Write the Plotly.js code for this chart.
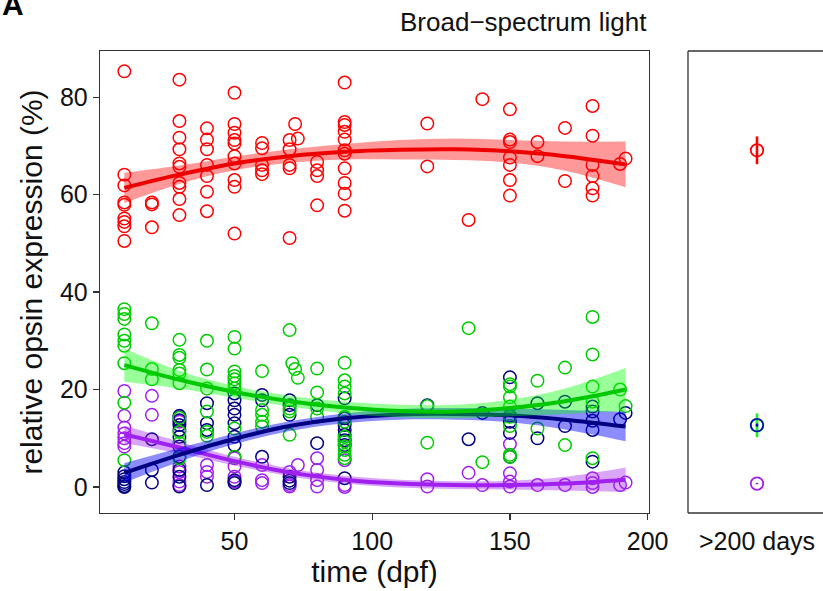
<!DOCTYPE html>
<html><head><meta charset="utf-8">
<script src="https://cdn.plot.ly/plotly-3.0.1.min.js"></script>
<style>html,body{margin:0;padding:0;background:#fff;overflow:hidden}#chart{width:830px;height:591px}</style>
</head><body><div id="chart"></div>
<script>
// ---- raw observations (days post fertilisation, % expression) ----
const redDay = [10,10,10,10,10,10,10,10,10, 20,20,20, 30,30,30,30,30,30,30,30,30,30, 40,40,40,40,40,40,40,
  50,50,50,50,50,50,50,50,50,50, 60,60,60,60,60, 70,70,70,70,70, 72,73, 80,80,80,80,
  90,90,90,90,90,90,90,90,90,90,90, 120,120, 135, 140, 150,150,150,150,150,150,150, 160,160, 170,170,
  180,180,180,180,180,180, 190, 192];
const redPct = [85.3,64.1,61.9,58.4,57.9,55.1,54.4,53.5,50.5, 58.4,58.0,53.3, 83.6,75.1,71.7,69.3,66.4,65.7,62.4,61.6,59.1,55.8,
  73.6,71.3,69.3,66.1,63.8,60.6,56.6, 80.9,74.5,72.7,71.2,70.5,67.9,66.4,63.0,61.6,52.0, 70.6,69.5,66.1,65.0,64.2,
  71.2,69.3,66.1,65.4,51.1, 74.5,71.5, 66.7,65.0,63.8,57.8, 83.0,74.9,74.3,72.9,71.3,69.1,68.4,65.4,62.4,60.2,56.7,
  74.6,65.8, 54.8, 79.6, 77.5,71.3,70.8,67.6,66.1,63.0,59.8, 70.8,67.9, 73.7,62.8, 78.2,72.1,66.1,63.8,61.3,59.8, 66.3, 67.4];

const greenDay = [10,10,10,10,10,10,10,10,10, 20,20,20, 30,30,30,30,30,30,30,30,30,30, 40,40,40,40,40,40,
  50,50,50,50,50,50,50,50,50, 60,60,60,60,60, 70,70,70,70, 71,72,73, 80,80,80,80,
  90,90,90,90,90,90,90,90,90,90,90,90, 120,120, 135, 140, 150,150,150,150,150,150,150,150, 160,160, 170,170,
  180,180,180,180,180, 190, 192];
const greenPct = [36.5,35.5,34.5,31.3,30.0,29.0,25.4,17.3,5.5, 33.6,24.2,22.1, 30.2,27.1,26.5,24.0,23.3,21.3,14.2,11.3,9.0,5.9,
  30.0,24.1,20.2,15.5,11.3,10.5, 30.8,28.4,23.7,22.8,22.1,21.3,20.2,12.0,6.2, 23.8,15.8,14.8,13.4,12.4,
  32.2,16.1,15.5,10.7, 25.4,24.2,22.4, 24.3,19.4,16.1,14.4, 25.5,21.9,20.6,19.2,14.4,13.4,10.3,9.3,8.3,7.6,6.6,5.9,
  16.6,9.1, 32.6, 5.1, 21.1,20.6,18.4,16.5,14.4,12.5,6.6,6.2, 21.8,12.0, 24.5,8.6, 34.9,27.2,20.6,17.5,5.9, 20.0, 16.6];

const navyDay = [10,10,10,10,10,10,10, 20,20,20, 30,30,30,30,30,30,30,30,30,30, 40,40,40,40,
  50,50,50,50,50,50,50,50,50, 60,60,60, 70,70,70,70,70,70, 80,80, 90,90,90,90,90,90,90,90,
  120, 135, 140, 150,150,150,150,150, 160,160, 170,170, 180,180,180,180,180, 190, 192];
const navyPct = [3.0,2.2,1.6,1.0,0.6,0.2,0.0, 9.8,3.5,0.9, 14.6,13.7,12.7,11.7,10.3,8.3,6.2,3.5,2.1,0.1, 17.2,13.1,11.7,0.4,
  19.2,17.8,16.1,14.8,13.1,10.3,8.6,1.4,0.8, 18.9,17.8,6.2, 17.8,16.8,14.8,2.1,1.3,0.8, 16.8,9.0,
  18.2,14.1,12.7,11.7,10.7,9.6,8.6,1.8, 16.8, 9.8, 15.2, 22.5,14.6,13.4,11.1,6.2, 17.2,10.0, 17.5,12.5,
  16.5,15.5,13.6,11.7,5.2, 13.9, 15.2];

const purpleDay = [10,10,10,10,10,10,10, 20,20, 30,30,30,30,30,30, 40,40,40, 50,50,50,50, 60,60,60,
  70,70,70, 73, 80,80,80,80, 90,90,90, 120,120, 135, 140, 150,150,150,150, 160, 170, 180,180,180, 190, 192];
const purplePct = [19.7,14.6,12.2,11.0,10.0,9.0,8.3, 18.7,14.8, 14.4,13.4,4.2,3.1,1.1,0.4, 4.5,3.1,2.1, 5.9,4.2,2.1,1.1,
  4.5,1.4,0.8, 3.1,0.4,0.1, 4.5, 5.9,3.5,1.4,0.1, 5.5,0.4,0.0, 1.6,0.1, 2.9, 0.4, 8.8,2.8,1.1,0.1, 0.4, 0.4,
  1.8,0.8,0.0, 0.4, 0.9];

// ---- smoothed fits with confidence band ----
const fitDay = [10, 30, 50, 70, 90, 110, 130, 150, 170, 192];
const redFit = [61.4, 64.1, 66.4, 67.9, 68.8, 69.2, 69.3, 68.9, 67.9, 66.2];
const redLo  = [58.3, 62.2, 65.0, 66.5, 67.2, 67.2, 67.1, 66.6, 64.9, 61.5];
const redHi  = [64.5, 66.0, 67.8, 69.3, 70.4, 71.2, 71.5, 71.2, 70.9, 70.9];
const greenFit = [25.0, 22.0, 19.5, 17.6, 16.3, 15.6, 15.5, 16.2, 17.6, 20.0];
const greenLo  = [21.6, 20.2, 18.3, 16.5, 15.1, 14.3, 14.1, 14.5, 15.0, 15.6];
const greenHi  = [28.4, 23.8, 20.7, 18.7, 17.5, 16.9, 16.9, 17.9, 20.2, 24.4];
const navyFit = [2.9, 6.6, 9.9, 12.5, 14.1, 14.9, 15.0, 14.7, 13.8, 12.4];
const navyLo  = [0.9, 5.2, 8.8, 11.5, 13.1, 13.8, 13.8, 13.3, 11.8, 9.4];
const navyHi  = [4.9, 8.0, 11.0, 13.5, 15.1, 16.0, 16.2, 16.1, 15.8, 15.4];
const purpleFit = [10.8, 8.1, 5.3, 3.0, 1.5, 0.7, 0.4, 0.4, 0.7, 1.5];
const purpleLo  = [9.0, 6.9, 4.4, 2.2, 0.7, -0.1, -0.4, -0.5, -0.7, -1.0];
const purpleHi  = [12.6, 9.3, 6.2, 3.8, 2.3, 1.5, 1.2, 1.3, 2.1, 4.0];

// ---- adult (>200 days) means and error ----
const adultLabel = ['>200 days'];
const adultMean = [69.1, 12.65, 12.7, 0.7];   // red, green, blue, purple
const adultErr  = [2.85, 2.45, 0.3, 0.15];

const xTicks = [50, 100, 150, 200];
const yTicks = [0, 20, 40, 60, 80];

const FONT = 'Liberation Sans, Arial, Helvetica, sans-serif';
const C = {
  red:   {pt:'#FF0000', line:'#EE0000', band:'rgba(255,0,0,0.4)'},
  green: {pt:'#00CD00', line:'#00C800', band:'rgba(0,255,0,0.4)'},
  navy:  {pt:'#000080', line:'#000080', band:'rgba(0,0,255,0.45)'},
  purple:{pt:'#A020F0', line:'#A020F0', band:'rgba(160,32,240,0.4)'}
};

function pts(x, y, col) {
  return {x, y, type:'scatter', mode:'markers', xaxis:'x', yaxis:'y', hoverinfo:'skip',
    marker:{symbol:'circle-open', size:12.5, color:col, line:{width:1.5, color:col}}};
}
function band(lo, hi, fill) {
  return [
    {x:fitDay, y:lo, type:'scatter', mode:'lines', line:{width:0, shape:'spline', smoothing:1, color:fill}, hoverinfo:'skip', xaxis:'x', yaxis:'y'},
    {x:fitDay, y:hi, type:'scatter', mode:'lines', line:{width:0, shape:'spline', smoothing:1, color:fill}, fill:'tonexty', fillcolor:fill, hoverinfo:'skip', xaxis:'x', yaxis:'y'}
  ];
}
function fitLine(y, col) {
  return {x:fitDay, y, type:'scatter', mode:'lines', line:{width:4, shape:'spline', smoothing:1, color:col}, hoverinfo:'skip', xaxis:'x', yaxis:'y'};
}
function adult(i, col, errCol) {
  return {x:adultLabel, y:[adultMean[i]], type:'scatter', mode:'markers', xaxis:'x2', yaxis:'y2', hoverinfo:'skip',
    marker:{symbol:'circle-open', size:12.5, color:col, line:{width:1.8, color:col}},
    error_y:{type:'data', array:[adultErr[i]], visible:true, width:0, thickness:2.6, color:errCol}};
}

const traces = [
  pts(redDay, redPct, C.red.pt),
  pts(purpleDay, purplePct, C.purple.pt),
  pts(navyDay, navyPct, C.navy.pt),
  pts(greenDay, greenPct, C.green.pt),
  ...band(redLo, redHi, C.red.band), fitLine(redFit, C.red.line),
  ...band(purpleLo, purpleHi, C.purple.band), fitLine(purpleFit, C.purple.line),
  ...band(navyLo, navyHi, C.navy.band), fitLine(navyFit, C.navy.line),
  ...band(greenLo, greenHi, C.green.band), fitLine(greenFit, C.green.line),
  adult(0, '#FF0000', '#FF0000'),
  adult(1, '#22EE22', '#22EE22'),
  adult(2, '#0010B8', '#0010B8'),
  adult(3, '#A020F0', '#A020F0')
];

const axisCommon = {showgrid:false, zeroline:false, ticks:'outside', ticklen:6, tickwidth:1.3, tickcolor:'#333',
  tickfont:{family:FONT, size:25, color:'#111'}};

const W = 830, PW = W - 100;   // figure is slightly wider than the window so the right panel is cut
const px0 = 588/PW;
const border = {color:'#333', width:1.3};

const layout = {
  width:W, height:591, showlegend:false,
  paper_bgcolor:'#fff', plot_bgcolor:'#fff',
  margin:{l:100, r:0, t:51, b:78},
  font:{family:FONT, color:'#111'},
  xaxis:{...axisCommon, domain:[0, 549/PW], range:[1.16, 200.5], tickvals:xTicks, ticktext:xTicks.map(String),
    showline:true, mirror:true, linecolor:'#333', linewidth:1.3, anchor:'y',
    title:{text:'time (dpf)', font:{family:FONT, size:30, color:'#111'}, standoff:6}},
  yaxis:{...axisCommon, domain:[0,1], range:[-5.34, 89.48], tickvals:yTicks, ticktext:yTicks.map(String),
    showline:true, mirror:true, linecolor:'#333', linewidth:1.3, anchor:'x',
    title:{text:'relative opsin expression (%)', font:{family:FONT, size:30, color:'#111'}, standoff:8}},
  xaxis2:{...axisCommon, domain:[px0, 1], type:'category', range:[-0.5, 0.529], tickcolor:'rgba(0,0,0,0)',
    showline:false, anchor:'y2'},
  yaxis2:{showgrid:false, zeroline:false, showticklabels:false, ticks:'', domain:[0,1], range:[-5.34, 89.48], anchor:'x2', showline:false},
  shapes:[
    {type:'line', xref:'paper', yref:'paper', x0:px0, x1:px0, y0:0, y1:1, line:border},
    {type:'line', xref:'paper', yref:'paper', x0:px0, x1:1.2, y0:0, y1:0, line:border},
    {type:'line', xref:'paper', yref:'paper', x0:px0, x1:1.2, y0:1, y1:1, line:border}
  ],
  annotations:[
    {text:'Broad\u2212spectrum light', xref:'paper', yref:'paper', x:(523-100)/PW, y:(513-22)/462,
      xanchor:'center', yanchor:'middle', showarrow:false, font:{family:FONT, size:26, color:'#111'}},
    {text:'<b>A</b>', xref:'paper', yref:'paper', x:-100/PW, y:(513-23)/462,
      xanchor:'left', yanchor:'bottom', showarrow:false, font:{family:FONT, size:30, color:'#000'}}
  ]
};

Plotly.newPlot('chart', traces, layout, {staticPlot:true, displayModeBar:false});
</script>
</body></html>
